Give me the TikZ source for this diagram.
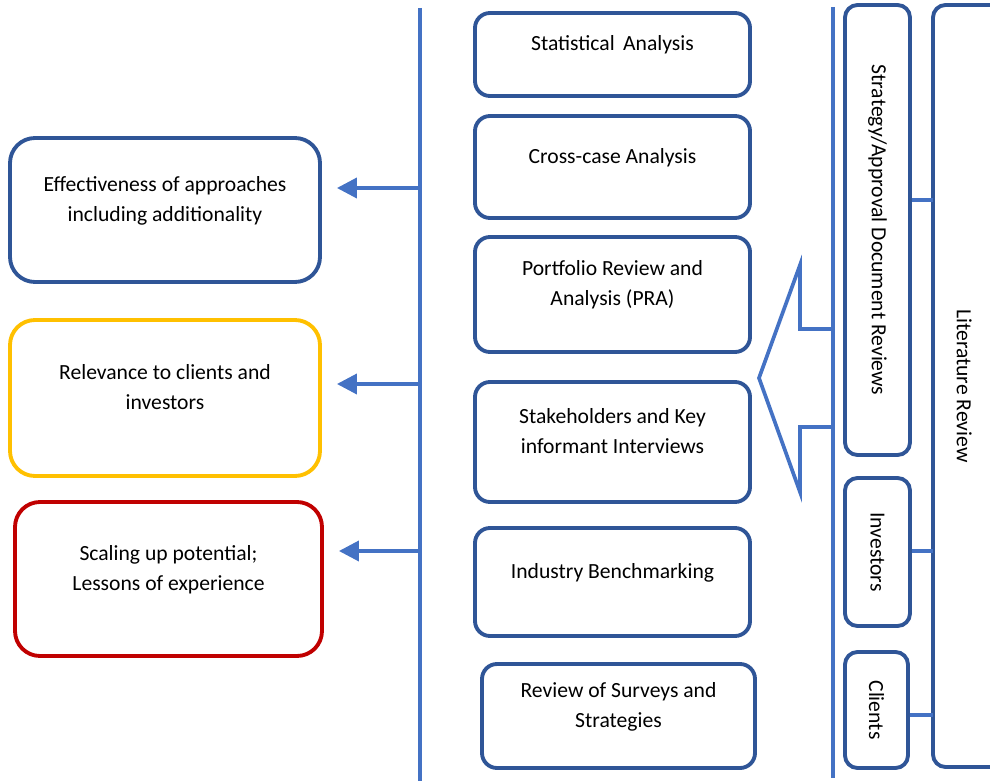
\documentclass[tikz,border=0pt]{standalone}
\usepackage{fontspec}
\setmainfont{Carlito}
\usepackage{xcolor}
\usetikzlibrary{arrows.meta}

\definecolor{boxblue}{HTML}{2F5597}
\definecolor{lineblue}{HTML}{4472C4}
\definecolor{boxyellow}{HTML}{FFC000}
\definecolor{boxred}{HTML}{C00000}

\tikzset{
  outbox/.style={draw=boxblue, line width=2.2pt, rounded corners=0.5cm, align=center, text depth=0.45cm},
  methodbox/.style={draw=boxblue, line width=2.2pt, rounded corners=0.3cm, align=center, minimum width=5.5cm, text depth=0.45cm},
  sidebox/.style={draw=boxblue, line width=2.2pt, rounded corners=0.25cm, minimum height=1.3cm, rotate=-90},
  link/.style={draw=lineblue, line width=2.1pt},
  leftarrow/.style={link, -{Triangle[length=0.4cm,width=0.4cm]}, shorten >=0.3cm}
}

\begin{document}
\begin{tikzpicture}[font=\fontsize{12.3}{17}\selectfont]
            \clip (0,0) rectangle (19.8,-15.62);

            % Left side - outcomes
            \node[outbox, minimum width=6.2cm, minimum height=2.88cm] (eff) at (3.3,-4.2) {Effectiveness of approaches\\including additionality};
            \node[outbox, draw=boxyellow, minimum width=6.2cm, minimum height=3.12cm] (rel) at (3.3,-7.96) {Relevance to clients and\\investors};
            \node[outbox, draw=boxred, minimum width=6.14cm, minimum height=3.08cm] (scale) at (3.37,-11.58) {Scaling up potential;\\Lessons of experience};

            % Left line and arrows
            \coordinate (ltop) at (8.4,-0.16);
            \coordinate (lbot) at (8.4,-15.62);
            \draw[link] (ltop) -- (lbot);
            \coordinate (l1) at (8.4,-3.76);
            \coordinate (l2) at (8.4,-7.68);
            \coordinate (l3) at (8.4,-11.02);
            \draw[leftarrow] (l1) -- (l1 -| eff.east);
            \draw[leftarrow] (l2) -- (l2 -| rel.east);
            \draw[leftarrow] (l3) -- (l3 -| scale.east);

            % Middle - methods
            \node[methodbox, minimum height=1.66cm] (stat) at (12.25,-1.09) {Statistical\, Analysis};
            \node[methodbox, minimum height=2.04cm] (cross) at (12.25,-3.34) {Cross-case Analysis};
            \node[methodbox, minimum height=2.3cm] (pra) at (12.25,-5.89) {Portfolio Review and\\Analysis (PRA)};
            \node[methodbox, minimum height=2.4cm] (kii) at (12.25,-8.84) {Stakeholders and Key\\informant Interviews};
            \node[methodbox, minimum height=2.16cm] (bench) at (12.25,-11.64) {Industry Benchmarking};
            \node[methodbox, minimum width=5.46cm, minimum height=2.08cm] (survey) at (12.37,-14.32) {Review of Surveys and\\Strategies};

            % Right line and hollow arrow
            \coordinate (rtop) at (16.66,-0.14);
            \coordinate (rbot) at (16.66,-15.56);
            \draw[link] (rtop) -- (rbot);
            \draw[link] (16.66,-6.58) -- (16.0,-6.58) -- (16.0,-5.3) -- (15.18,-7.56)
                -- (16.0,-9.84) -- (16.0,-8.54) -- (16.66,-8.54);

            % Right side - sources
            \node[sidebox, minimum width=9.0cm] (strat) at (17.55,-4.6) {Strategy/Approval Document Reviews};
            \node[sidebox, minimum width=2.96cm] (inv) at (17.55,-11.04) {Investors};
            \node[sidebox, minimum width=2.32cm, minimum height=1.26cm] (cli) at (17.53,-14.2) {Clients};
            \node[sidebox, minimum width=15.24cm, minimum height=1.7cm, text height=0.75cm] (lit) at (19.51,-7.72) {Literature Review};

            % Links to literature review
            \coordinate (s1) at (18.66,-4.0);
            \coordinate (s2) at (18.66,-11.02);
            \coordinate (s3) at (18.66,-14.3);
            \draw[link] (s1) -- (s1 -| strat.north);
            \draw[link] (s2) -- (s2 -| inv.north);
            \draw[link] (s3) -- (s3 -| cli.north);
        \end{tikzpicture}
\end{document}
